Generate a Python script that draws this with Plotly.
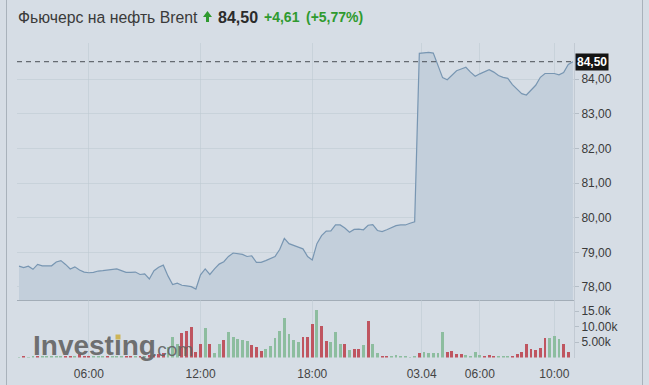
import plotly.graph_objects as go
from plotly.subplots import make_subplots

W, H = 649, 385

# ---------------- data ----------------
price = [78.60, 78.56, 78.60, 78.51, 78.65, 78.61, 78.61, 78.61, 78.72, 78.76,
         78.65, 78.52, 78.58, 78.49, 78.43, 78.41, 78.42, 78.46, 78.47, 78.48,
         78.50, 78.52, 78.47, 78.42, 78.42, 78.43, 78.36, 78.38, 78.23, 78.47,
         78.57, 78.63, 78.32, 78.07, 78.11, 78.05, 78.03, 78.01, 77.94, 78.35,
         78.52, 78.36, 78.52, 78.66, 78.73, 78.88, 78.98, 78.96, 78.94, 78.88,
         78.90, 78.71, 78.71, 78.76, 78.81, 78.88, 79.08, 79.40, 79.25, 79.19,
         79.15, 79.10, 78.88, 78.78, 79.25, 79.48, 79.61, 79.62, 79.79, 79.79,
         79.70, 79.58, 79.66, 79.67, 79.65, 79.78, 79.80, 79.63, 79.60, 79.65,
         79.72, 79.77, 79.79, 79.79, 79.84, 79.88, 84.74, 84.75, 84.77, 84.75,
         84.42, 84.04, 83.98, 84.10, 84.24, 84.29, 84.34, 84.20, 84.08, 84.15,
         84.20, 84.27, 84.20, 84.10, 84.05, 84.02, 83.84, 83.70, 83.58, 83.54,
         83.67, 83.82, 84.05, 84.16, 84.16, 84.16, 84.12, 84.19, 84.42, 84.50]

volume = [150, 200, 150, 250, 200, 300, 250, 400, 600, 500,
          300, 400, 350, 1200, 400, 300, 250, 350, 300, 250,
          300, 350, 400, 600, 300, 350, 400, 500, 900, 700,
          1100, 1300, 3500, 6500, 4500, 7800, 8700, 9700, 1900, 4300,
          9400, 4300, 1300, 4500, 5500, 8300, 6700, 5900, 5600, 5400,
          3900, 3500, 2200, 2700, 3700, 6200, 8650, 12600, 7600, 5600,
          5000, 6700, 6500, 10800, 15300, 10200, 5400, 5100, 8100, 4300,
          4250, 2300, 2700, 2600, 4000, 11700, 4250, 1350, 600, 500,
          300, 700, 300, 200, 150, 300, 1550, 1900, 1350, 1550,
          1350, 8100, 1650, 2000, 1000, 1000, 900, 600, 1650, 700,
          600, 700, 250, 350, 350, 500, 350, 1100, 1750, 4350,
          2600, 2400, 3200, 6200, 6200, 7000, 5850, 4250, 1650]

direction = list("udu" "udu" "uuuu" "dduddd" "uuudu" "uudd" "udu" "dddd" "u"
                 "uu" "dddddu" "duudu" "uuuu" "ddd" "uuuuuuuu" "ddd" "u" "dd"
                 "uuudu" "dd" "udu" "uddu" "uuuuu" "du" "uuuudd" "dduuuu" "dd"
                 "duuuddddddd" "d" "uuu" "dd" "uu" "du")

price_ticks = [78, 79, 80, 81, 82, 83, 84]
price_tick_text = ["78,00", "79,00", "80,00", "81,00", "82,00", "83,00", "84,00"]
vol_ticks = [5000, 10000, 15000]
vol_tick_text = ["5.00k", "10.00k", "15.0k"]
time_tick_pos = [15, 39, 63, 86.5, 99, 115]
time_tick_text = ["06:00", "12:00", "18:00", "03.04", "06:00", "10:00"]

last_price = 84.50
last_text = "84,50"
title = "Фьючерс на нефть Brent"
change_abs = "+4,61"
change_pct = "(+5,77%)"

# ---------------- styling ----------------
BG = "#d6dde5"
FILL = "#c3cfdb"
LINE = "#7896b2"
GRID = "rgba(190,200,210,0.55)"
UP = "#8dbd9f"
DOWN = "#bf5560"
GREEN_TXT = "#2f9a2f"
FONT = "Liberation Sans, Arial, sans-serif"

idx = list(range(len(price)))
vidx = list(range(len(volume)))
direction = (direction + ["u"] * len(volume))[:len(volume)]
bar_colors = [UP if d == "u" else DOWN for d in direction]

fig = make_subplots(rows=2, cols=1, shared_xaxes=True, vertical_spacing=0)

fig.add_trace(go.Scatter(x=idx, y=price, mode="lines",
                         line=dict(color=LINE, width=1.2),
                         fill="tozeroy", fillcolor=FILL,
                         hoverinfo="skip", showlegend=False), row=1, col=1)
fig.add_trace(go.Bar(x=vidx, y=volume, marker=dict(color=bar_colors, line=dict(width=0)),
                     width=0.62, hoverinfo="skip", showlegend=False), row=2, col=1)

def px_x(x):
    return x / W

def px_y(y):
    return 1 - y / H

x_dom = [px_x(17), px_x(574)]
x_range = [-0.43, 119.23]

fig.update_layout(
    width=W, height=H,
    margin=dict(l=0, r=0, t=0, b=0, autoexpand=False),
    paper_bgcolor=BG, plot_bgcolor=BG,
    font=dict(family=FONT, size=12, color="#3a3a3a"),
    bargap=0,
    xaxis=dict(domain=x_dom, range=x_range, tickvals=time_tick_pos, automargin=False,
               showticklabels=False, showgrid=True, gridcolor=GRID, gridwidth=1,
               zeroline=False, showline=True, linecolor="#a3adb7", linewidth=1,
               ticks=""),
    xaxis2=dict(domain=x_dom, range=x_range, tickvals=time_tick_pos, automargin=False,
                ticktext=time_tick_text, showgrid=True, gridcolor=GRID,
                zeroline=False, showline=False,
                ticks="outside", ticklen=5, tickcolor=BG,
                tickfont=dict(size=12, color="#444444", family=FONT)),
    yaxis=dict(domain=[px_y(300), px_y(43)], range=[77.624, 85.04], side="right",
               automargin=False,
               tickvals=price_ticks, ticktext=price_tick_text,
               showgrid=True, gridcolor=GRID, zeroline=False,
               showline=True, linecolor="#c2cad3", linewidth=1,
               ticks="outside", ticklen=4, tickcolor="#b5bec7",
               tickfont=dict(size=12, color="#3a3a3a", family=FONT)),
    yaxis2=dict(domain=[px_y(357.5), px_y(300)], range=[0, 18550], side="right",
                automargin=False,
                tickvals=vol_ticks, ticktext=vol_tick_text,
                showgrid=False, zeroline=False,
                showline=True, linecolor="#c2cad3", linewidth=1,
                ticks="outside", ticklen=4, tickcolor="#b5bec7",
                tickfont=dict(size=12, color="#3a3a3a", family=FONT)),
)

# last price dashed line and label
fig.add_shape(type="line", xref="x domain", yref="y", x0=0, x1=1,
              y0=last_price, y1=last_price,
              line=dict(color="#4a4f55", width=1, dash="5px,4px"))
fig.add_annotation(xref="x domain", yref="y", x=1, y=last_price, xanchor="left",
                   yanchor="middle", xshift=1, text="<b>" + last_text + "</b>",
                   showarrow=False, bgcolor="#141414", borderpad=1,
                   font=dict(color="white", size=12, family=FONT))

# outer frame lines
for xp in (6.5, 642.5):
    fig.add_shape(type="line", xref="paper", yref="paper",
                  x0=px_x(xp), x1=px_x(xp), y0=0, y1=1,
                  line=dict(color="#a9b2bb", width=1))

# header
hy = px_y(17)
fig.add_annotation(xref="paper", yref="paper", x=px_x(16), y=hy, xanchor="left",
                   yanchor="middle", text=title, showarrow=False,
                   font=dict(size=15.8, color="#3a3a3a", family=FONT))
fig.add_annotation(xref="paper", yref="paper", x=px_x(216), y=hy, xanchor="left",
                   yanchor="middle", text="<b>" + last_text + "</b>", showarrow=False,
                   font=dict(size=16, color="#2b2b2b", family=FONT))
fig.add_annotation(xref="paper", yref="paper", x=px_x(262), y=hy, xanchor="left",
                   yanchor="middle", text="<b>" + change_abs + "</b>", showarrow=False,
                   font=dict(size=14, color=GREEN_TXT, family=FONT))
fig.add_annotation(xref="paper", yref="paper", x=px_x(304), y=hy, xanchor="left",
                   yanchor="middle", text="<b>" + change_pct + "</b>", showarrow=False,
                   font=dict(size=14, color=GREEN_TXT, family=FONT))

# up arrow icon
pts = [(206, 22), (209, 22), (209, 17), (212, 17), (207.5, 11), (203, 17), (206, 17)]
path = "M " + " L ".join(f"{px_x(a):.5f},{px_y(b):.5f}" for a, b in pts) + " Z"
fig.add_shape(type="path", xref="paper", yref="paper", path=path,
              fillcolor="#2f9a2f", line=dict(width=0))

# watermark (logo: dotless i with a yellow dot)
fig.add_annotation(xref="paper", yref="paper", x=px_x(31), y=px_y(345), xanchor="left",
                   yanchor="middle", text="<b>Investıng</b>", showarrow=False,
                   font=dict(size=28, color="rgba(100,100,100,0.92)", family=FONT))
fig.add_annotation(xref="paper", yref="paper", x=px_x(150), y=px_y(349), xanchor="left",
                   yanchor="middle", text=".com", showarrow=False,
                   font=dict(size=19, color="rgba(100,100,100,0.92)", family=FONT))
fig.add_shape(type="rect", xref="paper", yref="paper",
              x0=px_x(115.5), x1=px_x(120.5), y0=px_y(339.5), y1=px_y(334.5),
              fillcolor="#cdb458", line=dict(width=0))

fig.write_html("out.html", config={"displayModeBar": False},
               post_script="document.body.style.margin='0px';")
